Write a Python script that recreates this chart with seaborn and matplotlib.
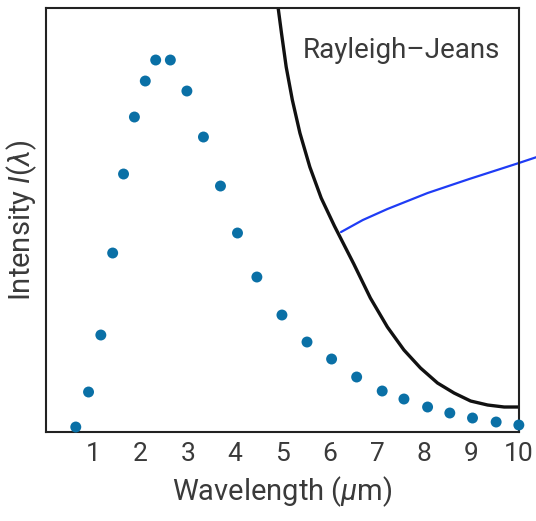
import pandas as pd
import matplotlib
matplotlib.use("Agg")
import matplotlib.pyplot as plt
import seaborn as sns

# Measured intensity (dots), arbitrary units
wavelength = [0.63, 0.90, 1.16, 1.41, 1.64, 1.87, 2.10, 2.32, 2.63, 2.98, 3.33, 3.69, 4.05,
              4.46, 4.99, 5.52, 6.04, 6.57, 7.11, 7.57, 8.07, 8.54, 9.02, 9.52, 10.0]
intensity = [5, 40, 97, 179, 258, 315, 351, 372, 372, 341, 295, 246, 199,
             155, 117, 90, 73, 55, 41, 33, 25, 19, 14, 10, 7]

# Rayleigh-Jeans curve
rj_wavelength = [4.91, 4.98, 5.08, 5.21, 5.37, 5.58, 5.82, 6.10, 6.51, 6.86, 7.22, 7.57,
                 7.92, 8.28, 8.63, 8.98, 9.34, 9.69, 10.0]
rj_intensity = [424, 399, 365, 332, 299, 265, 234, 206, 168, 134, 105, 82,
                64, 49, 39, 31, 27, 25, 25]

# blue pointer line
ptr_wavelength = [6.24, 6.70, 7.22, 8.07, 8.95, 10.0, 10.38]
ptr_intensity = [200, 212, 223, 239, 253, 269, 275]

x_ticks = [1, 2, 3, 4, 5, 6, 7, 8, 9, 10]

df = pd.DataFrame({"wavelength": wavelength, "intensity": intensity})
rj = pd.DataFrame({"wavelength": rj_wavelength, "intensity": rj_intensity})
ptr = pd.DataFrame({"wavelength": ptr_wavelength, "intensity": ptr_intensity})

sns.set_theme(style="white")
plt.rcParams["font.family"] = ["Roboto", "DejaVu Sans"]
plt.rcParams["mathtext.fontset"] = "custom"
plt.rcParams["mathtext.rm"] = "Roboto"
plt.rcParams["mathtext.it"] = "Roboto:italic"

text_col = "#3a3a3a"
line_col = "#222222"

fig, ax = plt.subplots(figsize=(5.36, 5.21), dpi=100)
fig.subplots_adjust(left=0.0858, right=0.968, bottom=0.1708, top=0.9846)

sns.lineplot(x="wavelength", y="intensity", data=rj, ax=ax, color="#111111",
             linewidth=2.4, sort=False)
sns.lineplot(x="wavelength", y="intensity", data=ptr, ax=ax, color="#1f3cf5",
             linewidth=1.6, sort=False).lines[-1].set_clip_on(False)
sns.scatterplot(x="wavelength", y="intensity", data=df, ax=ax, color="#0a70a6",
                s=62, edgecolor="none", clip_on=False, zorder=5)

ax.text(5.44, 382, "Rayleigh\u2013Jeans", fontsize=20, color=text_col,
        ha="left", va="center")

ax.set_xlim(0, 10)
ax.set_ylim(0, 424)
ax.set_xticks(x_ticks)
ax.set_xticklabels([str(t) for t in x_ticks])
ax.set_yticks([])
ax.tick_params(axis="x", direction="in", length=13, width=1.5, color=line_col,
               labelsize=19, labelcolor=text_col, pad=7)
for sp in ax.spines.values():
    sp.set_linewidth(1.5)
    sp.set_color(line_col)

ax.set_xlabel(r"Wavelength ($\mu$m)", fontsize=21, color=text_col, labelpad=6)
ax.set_ylabel(r"Intensity $I(\lambda)$", fontsize=21, color=text_col, labelpad=5)

plt.savefig("out.png", dpi=100)
